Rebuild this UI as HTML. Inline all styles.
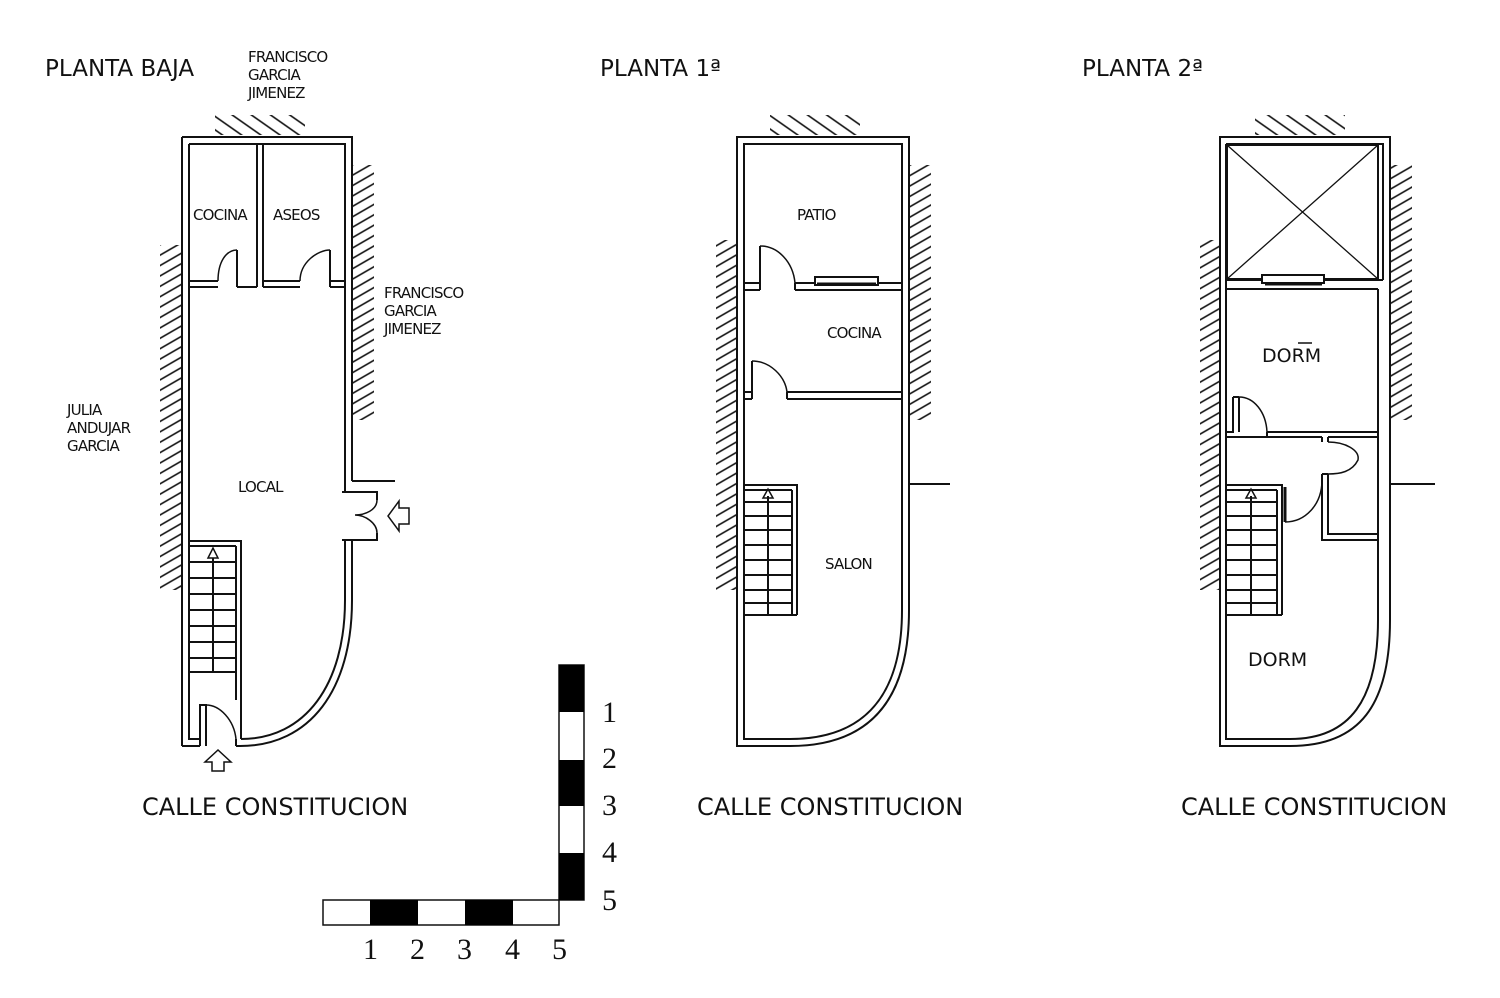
<!DOCTYPE html>
<html><head><meta charset="utf-8"><style>
html,body{margin:0;padding:0;background:#fff}
svg{display:block}
text{font-family:"DejaVu Sans","Liberation Sans",sans-serif;fill:#111}
.t{font-size:23px}
.s{font-size:15px;letter-spacing:-0.8px}
.c{font-size:24px;letter-spacing:0px}
.n{font-family:"Liberation Serif",serif;font-size:30px}
</style></head><body>
<svg width="1500" height="998" viewBox="0 0 1500 998" xmlns="http://www.w3.org/2000/svg">
<defs>
<pattern id="hl" width="9" height="9" patternUnits="userSpaceOnUse" patternTransform="rotate(-30)"><line x1="0" y1="4" x2="9" y2="4" stroke="#111" stroke-width="1.6"/></pattern>
<pattern id="ht" width="11" height="11" patternUnits="userSpaceOnUse" patternTransform="rotate(35)"><line x1="0" y1="5" x2="11" y2="5" stroke="#111" stroke-width="1.6"/></pattern>
</defs>
<rect width="1500" height="998" fill="#fff"/>
<g fill="none" stroke="#111" stroke-width="2">

<!-- ============ PLANTA BAJA ============ -->
<rect x="215" y="115" width="90" height="20" fill="url(#ht)" stroke="none"/>
<rect x="160" y="245" width="21" height="345" fill="url(#hl)" stroke="none"/>
<rect x="353" y="165" width="21" height="255" fill="url(#hl)" stroke="none"/>
<path d="M182,137 H352 V481 M352,540 V600 C352,690 310,746 240,746 H236 M200,746 H182 Z"/>
<path d="M189,144 H345 V492 M345,540 V600 C345,685 305,739 241,739"/>
<path d="M189,144 V739 H200 M182,746 V137"/>
<path d="M257,144 V287 M263,144 V287"/>
<path d="M189,287 H218 M237,287 H257 M263,287 H300 M330,287 H345"/>
<path d="M189,281 H218 M237,281 V287 M237,250 V287 M263,281 H300 M330,281 H345 M330,250 V287"/>
<path d="M237,250 C226,250 218,262 218,281 M330,250 C318,250 300,262 300,281" stroke-width="1.5"/>
<path d="M352,481 H395 M342,492 H377 V500 M342,540 H377 V533"/>
<path d="M377,500 C377,510 365,515 355,515 M377,533 C377,523 365,515 355,515" stroke-width="1.5"/>
<path d="M409,508 H399 V501 L388,516 L399,531 V524 H409 Z" stroke-width="1.5"/>
<path d="M189,541 H241 V739 M236,546 V700 M189,546 H236"/>
<path d="M189,562 H236 M189,578 H236 M189,594 H236 M189,610 H236 M189,626 H236 M189,642 H236 M189,658 H236 M189,672 H236 M213,558 V672"/>
<path d="M208,558 L213,548 L218,558 Z" stroke-width="1.5"/>
<path d="M200,746 V705 H206 V746 M236,746 V739"/>
<path d="M206,705 C220,705 234,720 236,739" stroke-width="1.5"/>
<path d="M212,771 V762 H205 L218,750 L231,762 H224 V771 Z" stroke-width="1.5"/>

<!-- ============ PLANTA 1 ============ -->
<rect x="770" y="115" width="90" height="20" fill="url(#ht)" stroke="none"/>
<rect x="716" y="240" width="21" height="350" fill="url(#hl)" stroke="none"/>
<rect x="910" y="165" width="21" height="255" fill="url(#hl)" stroke="none"/>
<path d="M737,137 H909 V610 C909,700 870,746 790,746 H737 Z"/>
<path d="M744,144 H902 V610 C902,695 865,739 790,739 H744 Z"/>
<path d="M909,484 H950"/>
<path d="M744,283 H760 V290 M744,290 H760 M795,283 H902 M795,290 H902 M795,283 V290 M760,283 V246"/>
<path d="M760,246 C778,246 793,262 795,283" stroke-width="1.5"/>
<rect x="815" y="277" width="63" height="8" fill="#fff"/>
<path d="M817,284 H876" stroke-width="3"/>
<path d="M744,392 H752 V399 M744,399 H752 M787,392 H902 M787,399 H902 M787,392 V399 M752,392 V361"/>
<path d="M752,361 C770,361 785,376 787,392" stroke-width="1.5"/>
<path d="M744,485 H797 V615 M792,490 V615 M744,490 H792 M744,615 H797"/>
<path d="M744,502 H792 M744,516 H792 M744,530 H792 M744,545 H792 M744,560 H792 M744,575 H792 M744,590 H792 M744,603 H792 M768,496 V615"/>
<path d="M763,498 L768,489 L773,498 Z" stroke-width="1.5"/>

<!-- ============ PLANTA 2 ============ -->
<rect x="1255" y="115" width="90" height="20" fill="url(#ht)" stroke="none"/>
<rect x="1200" y="240" width="20" height="350" fill="url(#hl)" stroke="none"/>
<rect x="1391" y="165" width="21" height="255" fill="url(#hl)" stroke="none"/>
<path d="M1220,137 H1390 V620 C1390,705 1360,746 1290,746 H1220 Z"/>
<path d="M1226,144 H1383 V280 M1378,289 V620 C1378,700 1350,739 1290,739 H1226 V144"/>
<rect x="1227" y="145" width="151" height="134"/>
<path d="M1227,145 L1378,279 M1378,145 L1227,279" stroke-width="1.3"/>
<path d="M1226,289 H1378 M1226,280 H1383"/>
<path d="M1390,484 H1435"/>
<rect x="1262" y="275" width="62" height="8" fill="#fff"/>
<path d="M1265,284 H1322" stroke-width="3"/>
<path d="M1226,432 H1233 V397 M1226,437 H1267 M1267,432 H1378 M1267,432 V437 M1239,397 V432 M1233,397 H1239"/>
<path d="M1239,397 C1254,397 1266,412 1267,432" stroke-width="1.5"/>
<path d="M1267,437 H1322 M1328,437 H1378 M1322,437 V442 M1328,437 V442 M1322,474 V540 H1378 M1328,474 V534 H1378 M1322,474 H1328"/>
<path d="M1328,442 C1345,442 1360,450 1358,460 C1352,472 1340,474 1328,474" stroke-width="1.5"/>
<path d="M1322,480 C1322,505 1305,522 1285,522" stroke-width="1.5"/>
<path d="M1285,487 V522" stroke-width="3"/>
<path d="M1226,485 H1282 V615 M1277,490 V615 M1226,490 H1277 M1226,615 H1282"/>
<path d="M1226,502 H1277 M1226,516 H1277 M1226,530 H1277 M1226,545 H1277 M1226,560 H1277 M1226,575 H1277 M1226,590 H1277 M1226,603 H1277 M1251,496 V615"/>
<path d="M1246,498 L1251,489 L1256,498 Z" stroke-width="1.5"/>

<rect x="323" y="900" width="236" height="25" stroke-width="1.5"/>
<rect x="559" y="665" width="25" height="235" stroke-width="1.5"/>
</g>
<g fill="#000">
<rect x="370" y="900" width="48" height="25"/><rect x="465" y="900" width="48" height="25"/>
<rect x="559" y="665" width="25" height="47"/><rect x="559" y="760" width="25" height="46"/><rect x="559" y="853" width="25" height="47"/>
</g>

<text class="t" x="45" y="76">PLANTA BAJA</text>
<text class="t" x="600" y="76">PLANTA 1ª</text>
<text class="t" x="1082" y="76">PLANTA 2ª</text>
<text class="s" x="248" y="62">FRANCISCO</text>
<text class="s" x="248" y="80">GARCIA</text>
<text class="s" x="248" y="98">JIMENEZ</text>
<text class="s" x="384" y="298">FRANCISCO</text>
<text class="s" x="384" y="316">GARCIA</text>
<text class="s" x="384" y="334">JIMENEZ</text>
<text class="s" x="67" y="415">JULIA</text>
<text class="s" x="67" y="433">ANDUJAR</text>
<text class="s" x="67" y="451">GARCIA</text>
<text class="s" x="193" y="220">COCINA</text>
<text class="s" x="273" y="220">ASEOS</text>
<text class="s" x="238" y="492">LOCAL</text>
<text class="s" x="797" y="220">PATIO</text>
<text class="s" x="827" y="338">COCINA</text>
<text class="s" x="825" y="569">SALON</text>
<text x="1262" y="362" style="font-size:19px">DORM</text>
<text x="1248" y="666" style="font-size:19px">DORM</text>
<path d="M1298,343 H1312" stroke="#111" stroke-width="1.5"/>
<text class="c" x="142" y="815">CALLE CONSTITUCION</text>
<text class="c" x="697" y="815">CALLE CONSTITUCION</text>
<text class="c" x="1181" y="815">CALLE CONSTITUCION</text>
<text class="n" x="363" y="959">1</text><text class="n" x="410" y="959">2</text><text class="n" x="457" y="959">3</text><text class="n" x="505" y="959">4</text><text class="n" x="552" y="959">5</text>
<text class="n" x="602" y="722">1</text><text class="n" x="602" y="768">2</text><text class="n" x="602" y="815">3</text><text class="n" x="602" y="862">4</text><text class="n" x="602" y="910">5</text>
</svg>
</body></html>
